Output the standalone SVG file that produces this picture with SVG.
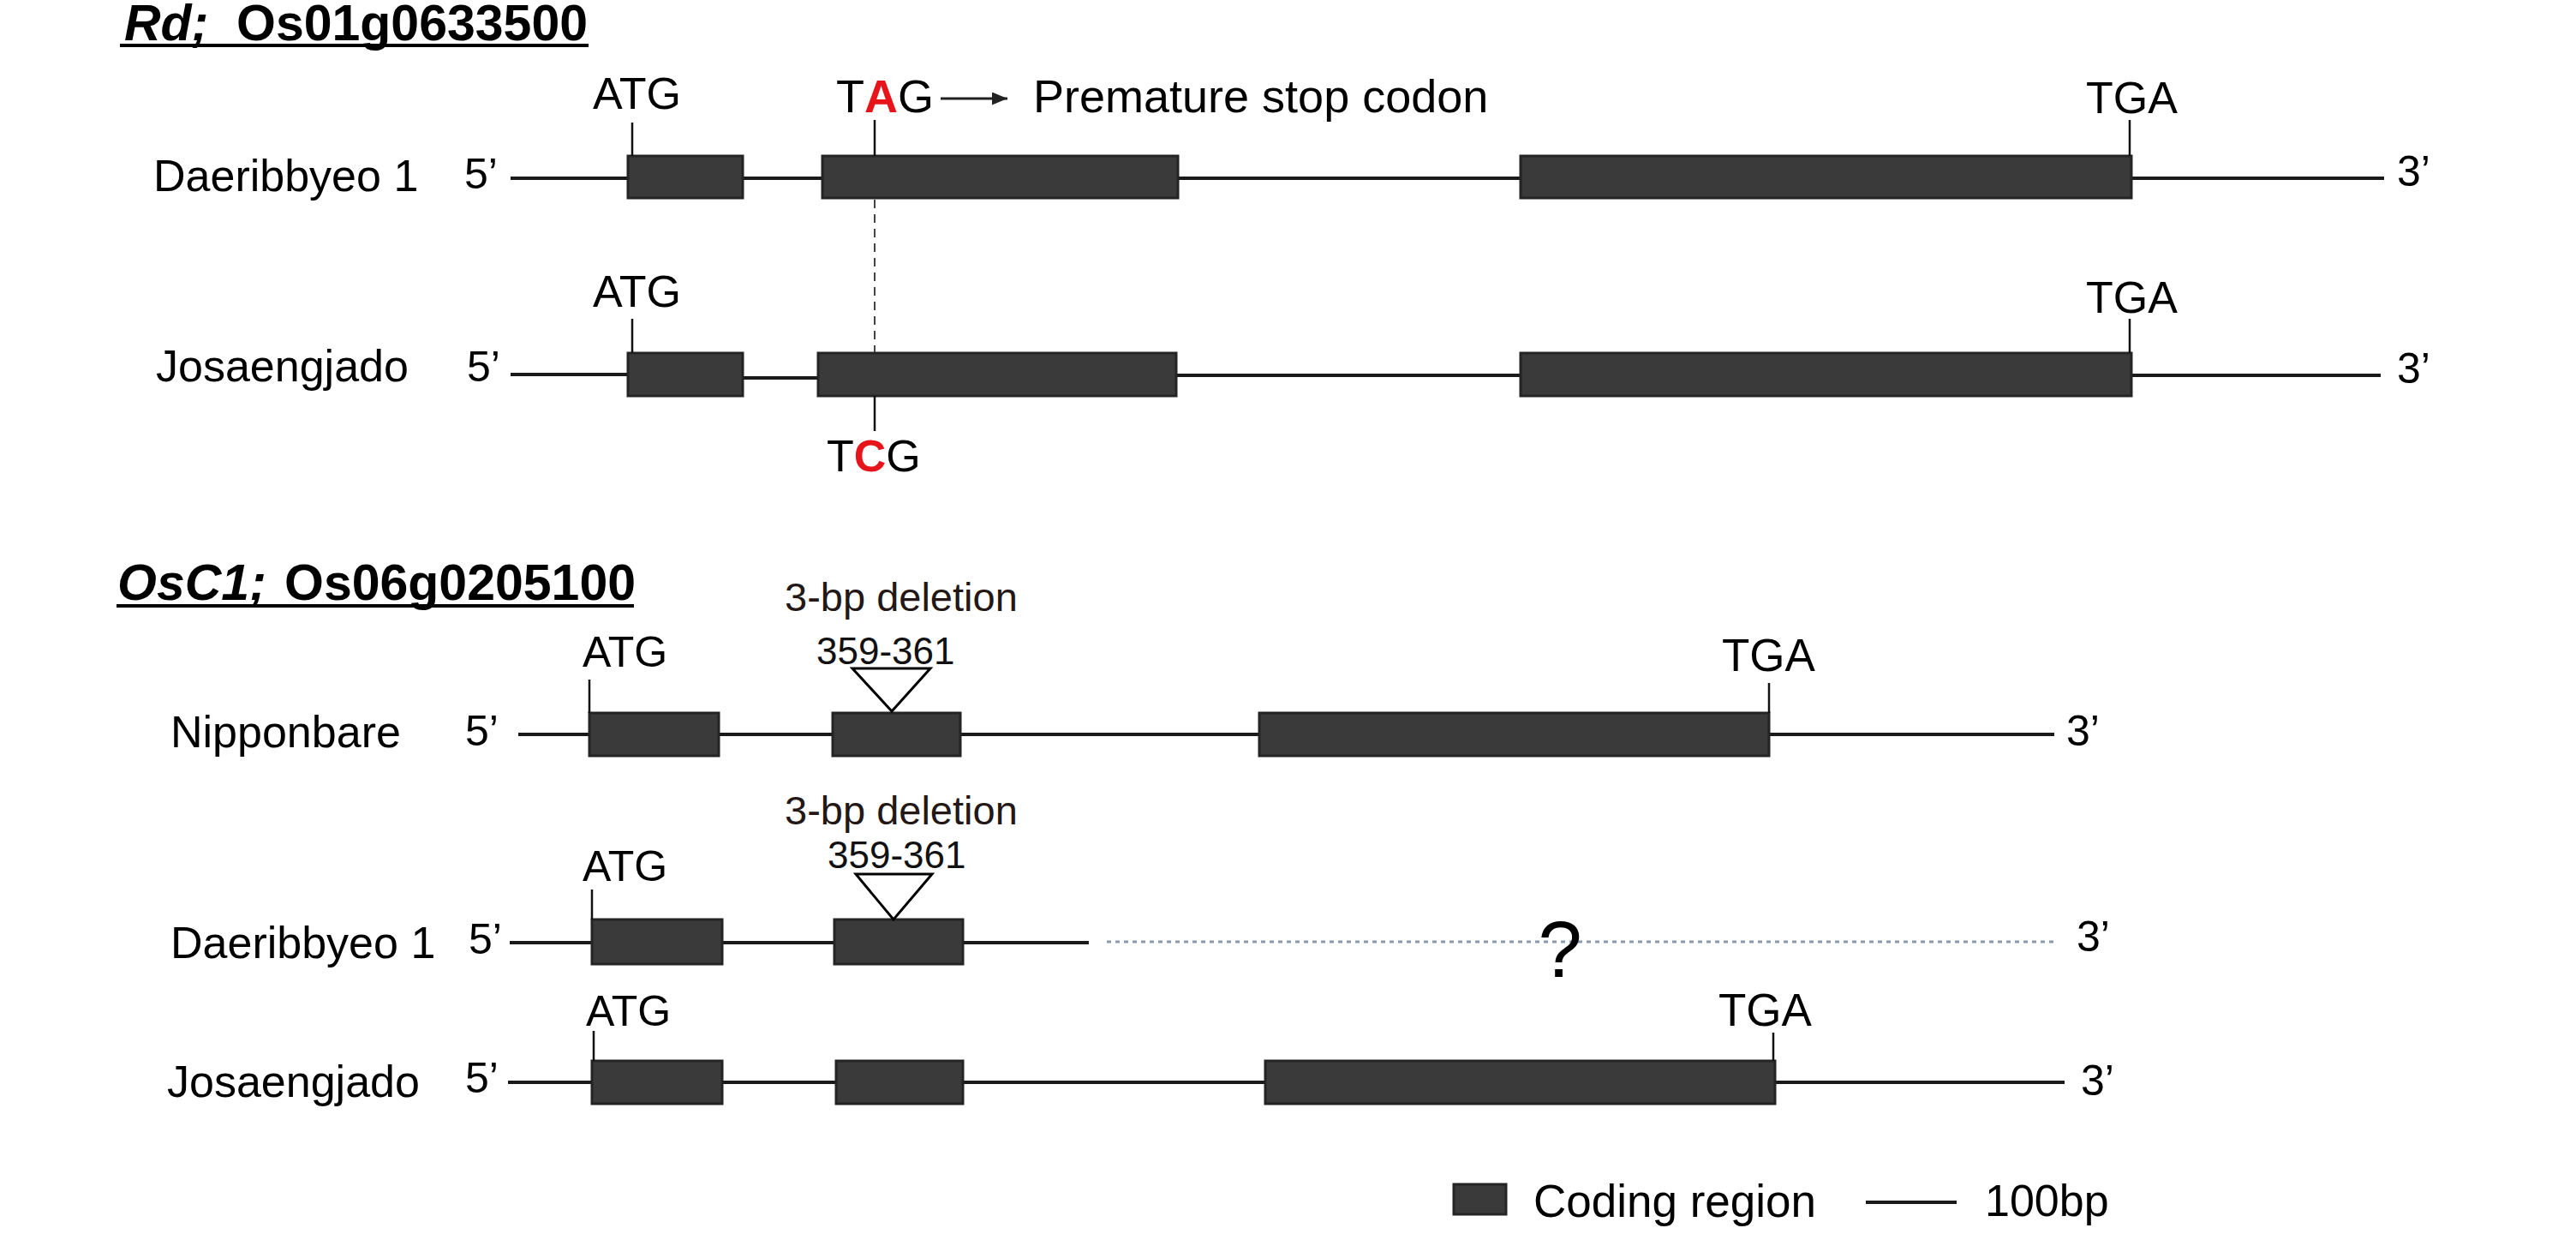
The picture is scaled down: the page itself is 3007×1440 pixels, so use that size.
<svg xmlns="http://www.w3.org/2000/svg" width="3007" height="1440" viewBox="0 0 3007 1440">
<style>
text{font-family:"Liberation Sans",Arial,sans-serif;fill:#000}
.title{font-size:59px;font-weight:bold}
.it{font-style:italic}
.lab{font-size:52px}
.end{font-size:50px}
.cod{font-size:52px}
.del{font-size:47px;fill:#231815}
.pos{font-size:44px;fill:#111}
.red{fill:#e8141c;font-weight:bold}
.exon{fill:#3a3a3a;stroke:#242424;stroke-width:3}
.gl{stroke:#1a1a1a;stroke-width:4;fill:none}
.tick{stroke:#111;stroke-width:2.5;fill:none}
.tri{fill:#fff;stroke:#000;stroke-width:3}
.ul{stroke:#000;stroke-width:4}
</style>
<defs>
<marker id="ah" markerWidth="6" markerHeight="5" refX="6" refY="2.5" orient="auto" markerUnits="strokeWidth">
<path d="M0,0 L6,2.5 L0,5 Z" fill="#222"/>
</marker>
</defs>
<rect width="3007" height="1440" fill="#fff"/>

<g id="title-rd">
<text class="title" y="47"><tspan class="it" x="145">Rd;</tspan><tspan x="276">Os01g0633500</tspan></text>
<line class="ul" x1="140" y1="53" x2="687" y2="53"/>
</g>

<g id="rd-daeribbyeo">
<text class="lab" x="179" y="223">Daeribbyeo 1</text>
<text class="end" x="542" y="220">5’</text>
<line class="gl" x1="596" y1="208" x2="2783" y2="208"/>
<rect class="exon" x="733" y="182" width="134" height="49"/>
<rect class="exon" x="960" y="182" width="415" height="49"/>
<rect class="exon" x="1775" y="182" width="713" height="49"/>
<line class="tick" x1="738" y1="143" x2="738" y2="182"/>
<text class="cod" x="692" y="127">ATG</text>
<line class="tick" x1="1021" y1="140" x2="1021" y2="182"/>
<text class="cod" x="976" y="131" style="font-size:54px">T<tspan class="red">A</tspan>G</text>
<text class="cod" x="1206" y="131" style="font-size:54px">Premature stop codon</text>
<line class="tick" x1="2486" y1="140" x2="2486" y2="182"/>
<text class="cod" x="2435" y="132">TGA</text>
<text class="end" x="2798" y="217">3’</text>
</g>

<g id="rd-josaengjado">
<text class="lab" x="182" y="445">Josaengjado</text>
<text class="end" x="545" y="445">5’</text>
<line class="gl" x1="596" y1="437" x2="735" y2="437"/>
<line class="gl" x1="865" y1="441" x2="957" y2="441"/>
<line class="gl" x1="1371" y1="438" x2="2779" y2="438"/>
<rect class="exon" x="733" y="412" width="134" height="50"/>
<rect class="exon" x="955" y="412" width="418" height="50"/>
<rect class="exon" x="1775" y="412" width="713" height="50"/>
<line class="tick" x1="738" y1="372" x2="738" y2="412"/>
<text class="cod" x="692" y="358">ATG</text>
<line class="tick" x1="1021" y1="462" x2="1021" y2="503"/>
<text class="cod" x="965" y="550">T<tspan class="red">C</tspan>G</text>
<line class="tick" x1="2486" y1="372" x2="2486" y2="412"/>
<text class="cod" x="2435" y="365">TGA</text>
<text class="end" x="2798" y="447">3’</text>
</g>

<g id="title-osc1">
<text class="title" y="700"><tspan class="it" x="137">OsC1;</tspan><tspan x="332">Os06g0205100</tspan></text>
<line class="ul" x1="136" y1="707" x2="740" y2="707"/>
</g>

<g id="osc1-nipponbare">
<text class="lab" x="199" y="872">Nipponbare</text>
<text class="end" x="543" y="870">5’</text>
<line class="gl" x1="605" y1="857" x2="2398" y2="857"/>
<rect class="exon" x="688" y="832" width="151" height="50"/>
<rect class="exon" x="972" y="832" width="149" height="50"/>
<rect class="exon" x="1470" y="832" width="595" height="50"/>
<line class="tick" x1="688" y1="793" x2="688" y2="832"/>
<text class="cod" x="680" y="778" style="font-size:50px">ATG</text>
<text class="del" x="916" y="713">3-bp deletion</text>
<text class="pos" x="953" y="775">359-361</text>
<polygon class="tri" points="995,780 1086,780 1041,830"/>
<line class="tick" x1="2065" y1="797" x2="2065" y2="832"/>
<text class="cod" x="2010" y="783" style="font-size:53px">TGA</text>
<text class="end" x="2412" y="870">3’</text>
</g>

<g id="osc1-daeribbyeo">
<text class="lab" x="199" y="1118">Daeribbyeo 1</text>
<text class="end" x="547" y="1113">5’</text>
<line class="gl" x1="595" y1="1100" x2="1271" y2="1100"/>
<line x1="1292" y1="1099" x2="2400" y2="1099" stroke="#8a9ab0" stroke-width="3" stroke-dasharray="5 5"/>
<rect class="exon" x="691" y="1073" width="152" height="52"/>
<rect class="exon" x="974" y="1073" width="150" height="52"/>
<line class="tick" x1="691" y1="1038" x2="691" y2="1073"/>
<text class="cod" x="680" y="1028" style="font-size:50px">ATG</text>
<text class="del" x="916" y="962">3-bp deletion</text>
<text class="pos" x="966" y="1013">359-361</text>
<polygon class="tri" points="999,1020 1088,1020 1043,1073"/>
<text x="1821" y="1140" text-anchor="middle" style="font-size:92px">?</text>
<text class="end" x="2424" y="1110">3’</text>
</g>

<g id="osc1-josaengjado">
<text class="lab" x="195" y="1280">Josaengjado</text>
<text class="end" x="543" y="1275">5’</text>
<line class="gl" x1="593" y1="1263" x2="2410" y2="1263"/>
<rect class="exon" x="691" y="1238" width="152" height="50"/>
<rect class="exon" x="976" y="1238" width="148" height="50"/>
<rect class="exon" x="1477" y="1238" width="595" height="50"/>
<line class="tick" x1="693" y1="1203" x2="693" y2="1238"/>
<text class="cod" x="684" y="1197" style="font-size:50px">ATG</text>
<line class="tick" x1="2070" y1="1205" x2="2070" y2="1238"/>
<text class="cod" x="2006" y="1197" style="font-size:53px">TGA</text>
<text class="end" x="2429" y="1278">3’</text>
</g>

<g id="legend">
<rect class="exon" x="1697" y="1382" width="61" height="35"/>
<text class="lab" x="1790" y="1420" style="font-size:53px">Coding region</text>
<line class="gl" x1="2178" y1="1403" x2="2284" y2="1403"/>
<text class="lab" x="2317" y="1419">100bp</text>
</g>

<g id="connectors">
<line x1="1021" y1="233" x2="1021" y2="411" stroke="#444" stroke-width="2" stroke-dasharray="10 7"/>
<line x1="1098" y1="115" x2="1176" y2="115" stroke="#222" stroke-width="3" marker-end="url(#ah)"/>
</g>
</svg>
